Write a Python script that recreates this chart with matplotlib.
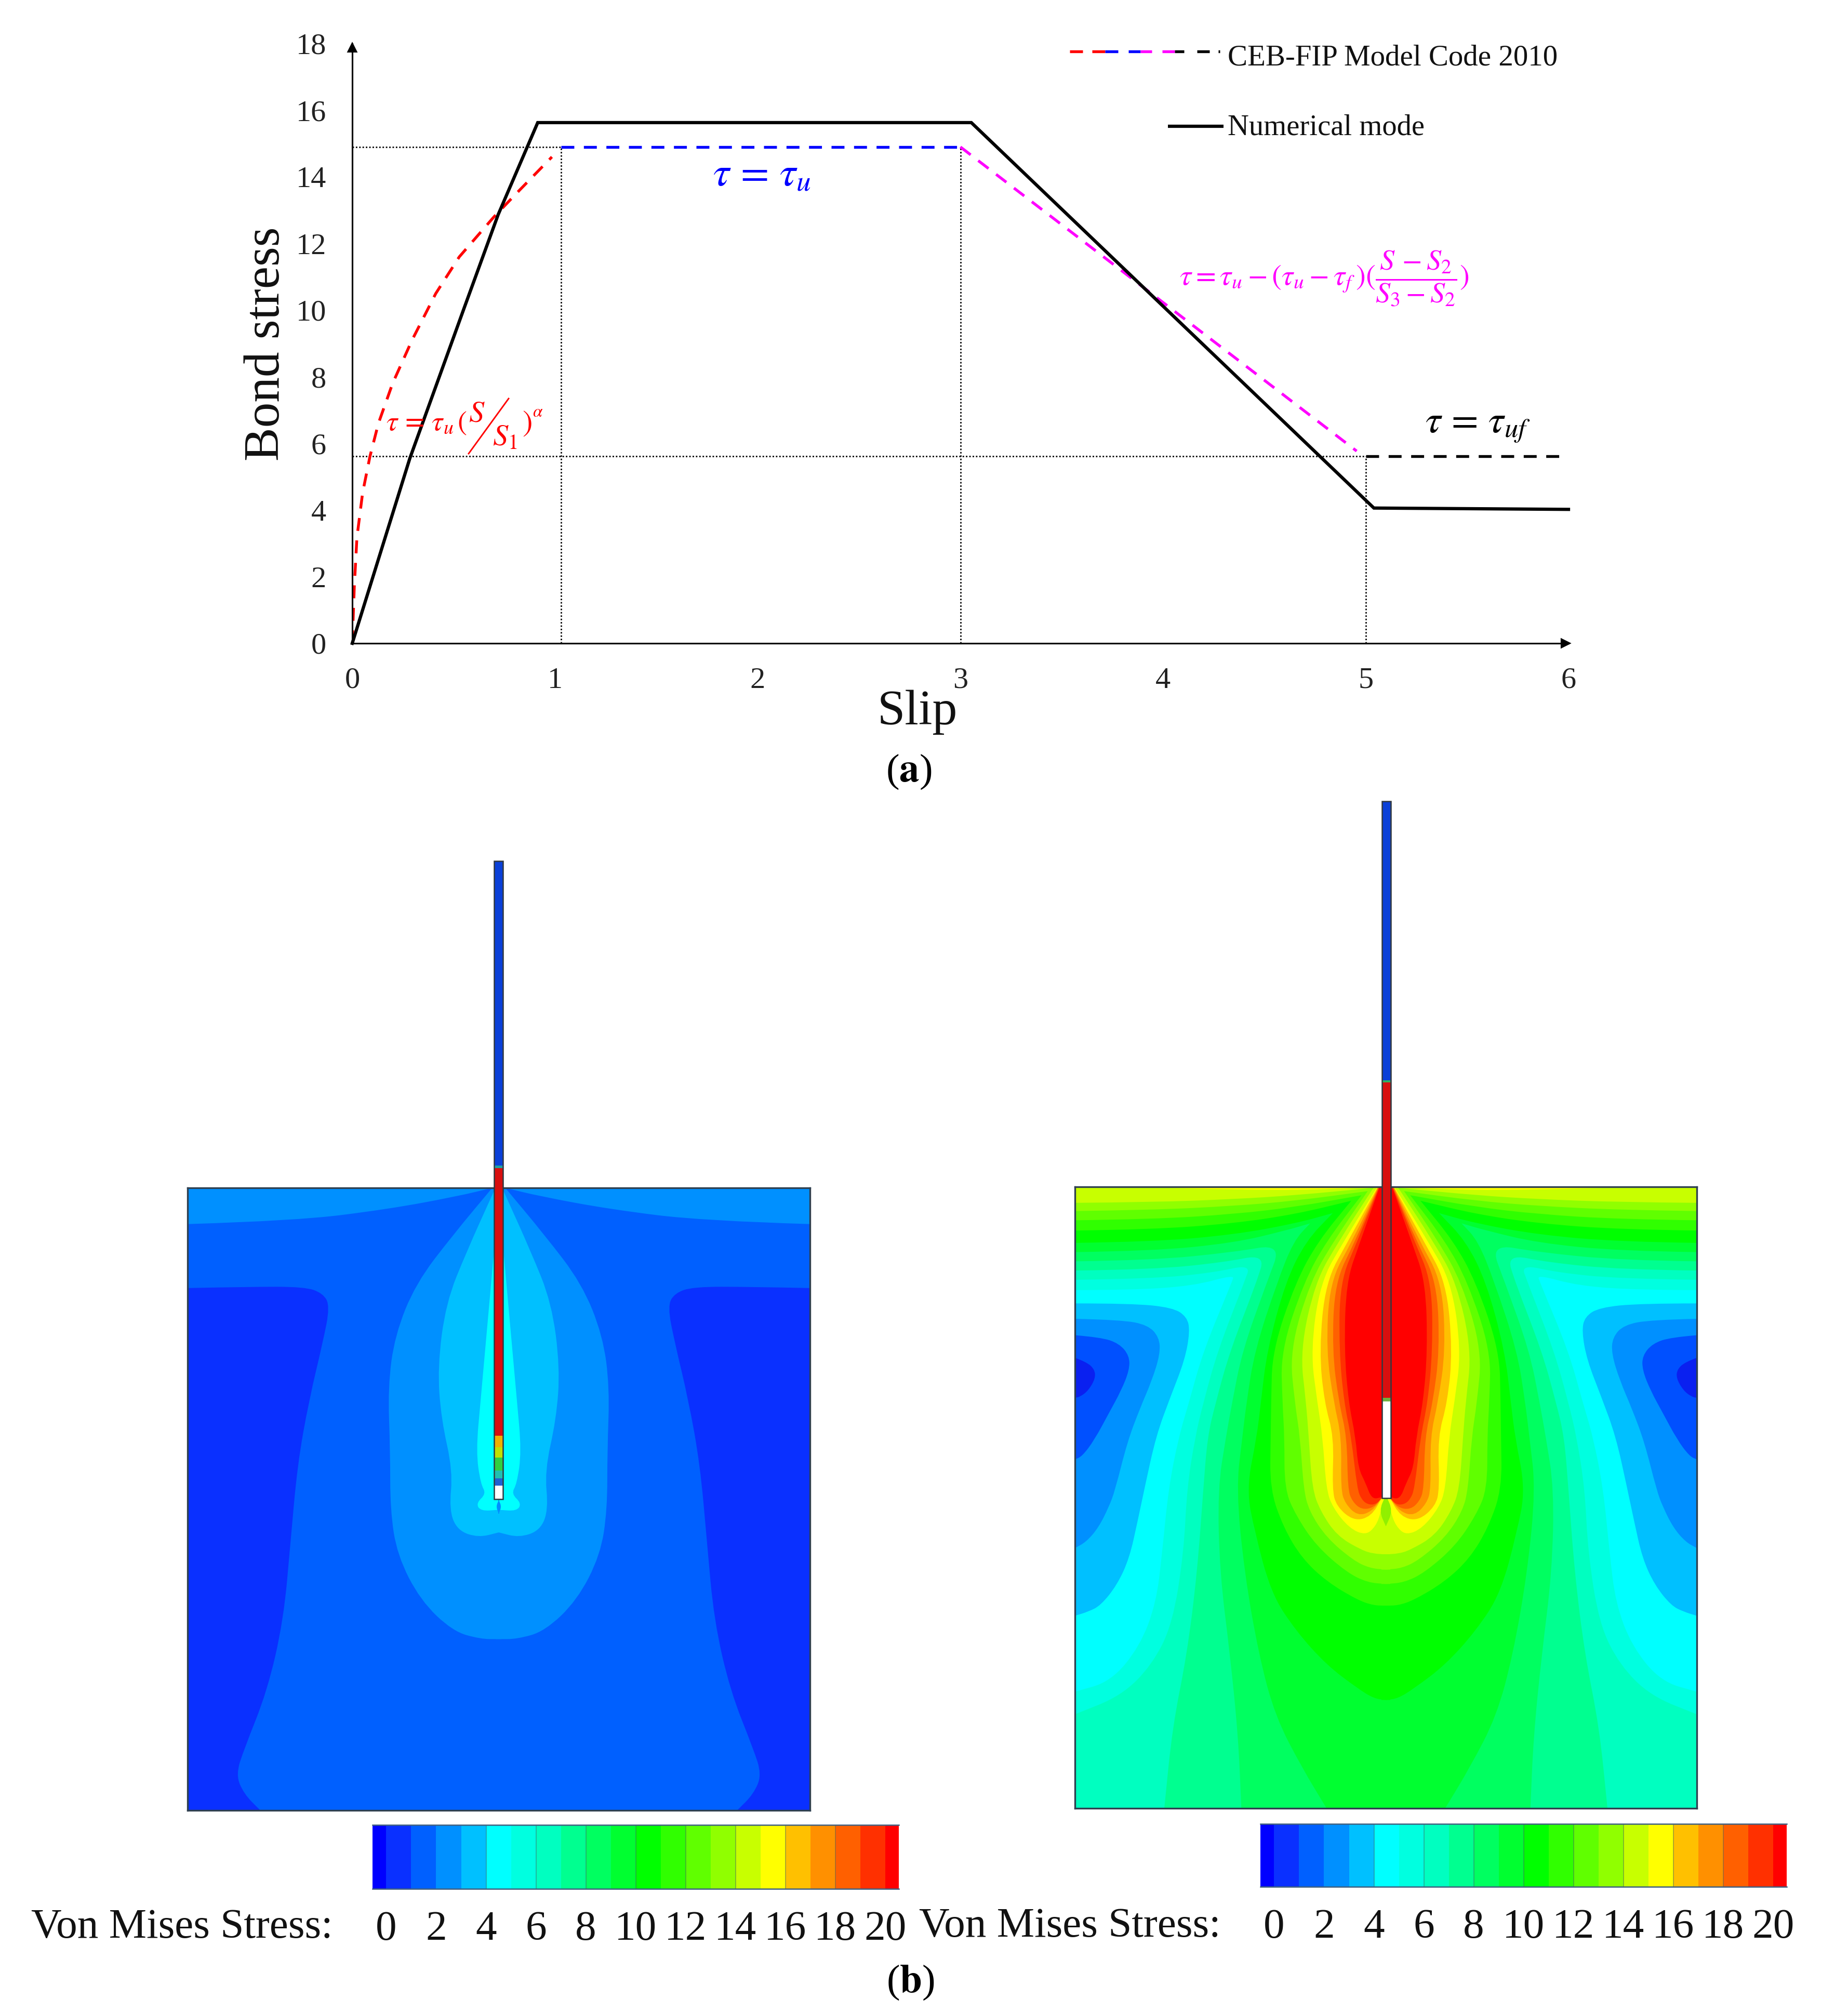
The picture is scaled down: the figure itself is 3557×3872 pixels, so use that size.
import numpy as np
import matplotlib as mpl
mpl.use('agg')
import matplotlib.pyplot as plt
from matplotlib.colors import ListedColormap
from matplotlib.patches import PathPatch
from matplotlib.path import Path

plt.rcParams['font.family'] = ['Liberation Serif', 'DejaVu Serif']
plt.rcParams['mathtext.fontset'] = 'stix'

##--##--##--  panel a data  --##--##--##
x_ticks = [0, 1, 2, 3, 4, 5, 6]
y_ticks = [0, 2, 4, 6, 8, 10, 12, 14, 16, 18]

numerical_s = [0, 0.284, 0.55, 0.72, 0.915, 3.054, 5.04, 6.0]
numerical_t = [0, 5.55, 10.03, 12.87, 15.63, 15.63, 4.06, 4.02]

rising_s = [0, 0.010, 0.023, 0.051, 0.087, 0.129, 0.199, 0.295, 0.412, 0.528, 0.699, 0.825, 0.985]
rising_t = [0, 1.68, 3.17, 4.51, 5.60, 6.60, 7.80, 9.10, 10.50, 11.60, 12.80, 13.60, 14.60]
plateau_s = [1.03, 3.0]
plateau_t = [14.9, 14.9]
falling_s = [3.0, 4.955]
falling_t = [14.9, 5.77]
residual_s = [5.0, 6.0]
residual_t = [5.62, 5.62]

##--##--##--  colour bar data  --##--##--##
bar_edges = [-0.55] + list(range(0, 21)) + [20.54]
bar_ticks = [0, 2, 4, 6, 8, 10, 12, 14, 16, 18, 20]
bar_lines = [4, 6, 8, 10, 12, 14, 16, 18]
bar_colours = ['#0000ff', '#0a30ff', '#0060ff', '#0090ff', '#00c0ff', '#00ffff', '#00ffe0', '#00ffc0',
               '#00ff90', '#00ff60', '#00ff30', '#00ff00', '#30ff00', '#60ff00', '#90ff00', '#c8ff00',
               '#ffff00', '#ffc000', '#ff9000', '#ff6000', '#ff3000', '#ff0000']

##--##--##--  right plate, left half, band outlines  --##--##--##
iso05 = [(25,540),(300,540),(600,520),(800,465),(790,500),(650,835),(580,1088),(530,1256),(480,1509),
         (450,1817),(420,2067),(340,2277),(200,2447),(25,2497)]
iso06 = [(25,490),(400,485),(700,455),(880,415),(850,500),(720,835),(650,1088),(610,1256),(570,1509),
         (555,1817),(500,2167),(400,2367),(250,2517),(25,2607)]
iso07 = [(25,445),(400,440),(750,405),(950,365),(910,500),(780,835),(710,1088),(670,1256),(650,1509),
         (620,1917),(570,2317),(500,2667),(460,3065)]
iso08 = [(25,400),(400,395),(800,355),(1030,315),(960,500),(840,835),(790,1088),(760,1256),(720,1509),
         (730,1917),(780,2317),(820,2717),(835,3065)]
iso09 = [(25,355),(400,350),(800,310),(1050,250),(1170,215),(1170,215),(1090,300),(1010,500),(900,835),(860,1088),
         (840,1256),(810,1509),(850,1917),(920,2317),(1000,2617),(1130,2867),(1250,3065)]
iso10 = [(25,310),(400,305),(800,270),(1100,215),(1280,165),(1280,165),(1150,300),(1050,500),(960,835),(930,1088),
         (910,1256),(860,1509),(900,1717),(980,2017),(1100,2200),(1250,2367),(1400,2480),(1480,2530),(1538,2537)]
iso11 = [(25,250),(400,245),(800,215),(1100,170),(1370,105),(1370,105),(1210,300),(1100,500),(986,835),(980,1088),
         (978,1256),(974,1509),(1040,1697),(1130,1847),(1250,1960),(1400,2050),(1480,2077),(1538,2077)]
iso12 = [(25,200),(400,195),(800,170),(1100,135),(1420,78),(1420,78),(1250,300),(1140,500),(1028,835),(1035,1088),
         (1045,1256),(1045,1509),(1100,1637),(1200,1787),(1350,1917),(1450,1965),(1538,1972)]
iso13 = [(25,155),(400,150),(800,130),(1100,105),(1450,58),(1450,58),(1285,300),(1170,500),(1071,835),(1095,1088),
         (1121,1256),(1138,1509),(1165,1617),(1250,1747),(1380,1857),(1460,1895),(1538,1902)]
iso14 = [(25,115),(400,112),(800,97),(1100,78),(1478,42),(1478,42),(1310,300),(1195,500),(1121,835),(1150,1088),
         (1163,1256),(1180,1509),(1220,1617),(1300,1737),(1420,1807),(1480,1825),(1538,1827)]
iso15 = [(1495,40),(1495,40),(1335,300),(1220,500),(1172,835),(1205,1088),(1231,1256),(1248,1509),(1280,1600),
         (1360,1700),(1440,1735),(1490,1690),(1515,1620),(1528,1560)]
iso16 = [(1498,40),(1498,40),(1355,300),(1245,500),(1214,835),(1239,1088),(1286,1256),(1277,1509),(1298,1594),
         (1382,1665),(1467,1644),(1522,1548)]
iso17 = [(1500,40),(1500,40),(1375,300),(1265,500),(1248,835),(1285,1088),(1323,1256),(1319,1509),(1340,1580),
         (1400,1640),(1470,1620),(1522,1548)]
iso18 = [(1502,40),(1502,40),(1390,300),(1290,500),(1277,835),(1310,1088),(1349,1256),(1353,1509),(1375,1570),
         (1420,1610),(1480,1600),(1522,1548)]
iso19 = [(1505,40),(1505,40),(1400,300),(1315,500),(1311,835),(1335,1088),(1370,1256),(1399,1509),(1420,1560),
         (1450,1585),(1490,1585),(1522,1548)]
iso20 = [(1507,40),(1507,40),(1415,300),(1345,500),(1336,835),(1357,1088),(1391,1256),(1404,1408),(1440,1480),
         (1470,1560),(1522,1548)]
top_strip = [(300,37),(900,55),(1300,48),(1470,37)]
notch = [(1538,1540),(1538,1540),(1505,1615),(1538,1690),(1538,1690)]

pocket3 = [(25,605),(300,605),(500,625),(570,670),(585,740),(560,880),(490,1060),(420,1250),(365,1500),(330,1667),
           (290,1847),(230,1977),(150,2077),(90,2107),(25,2127)]
pocket2 = [(25,680),(250,685),(380,710),(435,770),(440,850),(400,980),(340,1120),(280,1280),(220,1517),(190,1597),
           (140,1697),(80,1767),(25,1797)]
pocket1 = [(25,760),(150,770),(240,800),(290,860),(290,930),(250,1030),(190,1140),(120,1270),(60,1350),(25,1365)]
pocket0 = [(25,870),(80,890),(120,925),(125,970),(90,1030),(50,1060),(25,1065)]

##--##--##--  left plate, left half  --##--##--##
top_band = [(68,608),(300,603),(500,585),(650,565),(725,552)]
side_pocket = [(68,707),(200,705),(320,705),(360,715),(375,735),(360,790),(330,880),(305,980),(290,1100),(275,1220),
               (240,1330),(190,1420),(172,1460),(190,1490),(225,1515)]
lobe_outer = [(725,552),(725,552),(640,625),(560,700),(515,780),(500,860),(505,960),(505,1050),(520,1120),(570,1190),
              (640,1238),(700,1250),(739,1250)]
lobe_middle = [(728,558),(728,558),(670,650),(625,730),(607,830),(615,910),(640,990),(632,1050),(650,1082),(695,1093),
               (739,1085)]
lobe_inner = [(735,600),(735,600),(720,720),(700,880),(690,960),(700,1010),(712,1025),(690,1040),(700,1052),(739,1050)]
tip_spot = [(739,1035),(739,1035),(733,1045),(739,1056),(739,1056)]

left_stem_y = [1657, 2243, 2248, 2763, 2785, 2805, 2830, 2845, 2859, 2885]
left_stem_c = ['#0a40d8', '#20a0a0', '#d80f0f', '#f0b000', '#c0e000', '#30d040', '#20c0b0', '#2060d0', '#ffffff']
right_stem_y = [1542, 2079, 2083, 2690, 2697, 2883]
right_stem_c = ['#0a40d8', '#30b060', '#d80f0f', '#70b040', '#ffffff']


##--##--##--  create figure  --##--##--##
W, H = 3557, 3872
fig = plt.figure(figsize=(W / 300, H / 300), dpi=300)


def px_axes(l, t, r, b):
    return fig.add_axes([l / W, 1 - b / H, (r - l) / W, (b - t) / H])


def smooth_path(curve, corners):
    # quadratic spline through the traced points, then straight closing corners
    pts = np.array(curve, dtype=float)
    verts = [pts[0]]
    codes = [Path.MOVETO]
    for i in range(1, len(pts) - 1):
        verts += [pts[i], (pts[i] + pts[i + 1]) / 2]
        codes += [Path.CURVE3, Path.CURVE3]
    verts.append(pts[-1])
    codes.append(Path.LINETO)
    for c in corners:
        verts.append(np.array(c, dtype=float))
        codes.append(Path.LINETO)
    verts.append(pts[0])
    codes.append(Path.CLOSEPOLY)
    return Path(np.array(verts), codes)


def both_sides(ax, curve, corners, colour, mirror):
    ax.add_patch(PathPatch(smooth_path(curve, corners), fc=colour, ec='none', lw=0))
    flip = [(mirror - x, y) for x, y in curve]
    flipc = [(mirror - x, y) for x, y in corners]
    ax.add_patch(PathPatch(smooth_path(flip, flipc), fc=colour, ec='none', lw=0))


def plate_axes(l, t, r, b, xr, yr, base):
    ax = px_axes(l, t, r, b)
    ax.set_xlim(*xr)
    ax.set_ylim(*yr)
    ax.set_xticks([])
    ax.set_yticks([])
    ax.set_facecolor(base)
    for s in ax.spines.values():
        s.set_linewidth(0.8)
        s.set_color('#2f4050')
    return ax


def colour_bar(l, t, r, b):
    ax = px_axes(l, t, r, b)
    cmap = ListedColormap(bar_colours)
    ax.pcolormesh(bar_edges, [0, 1], [np.arange(len(bar_colours))], cmap=cmap, vmin=-0.5, vmax=len(bar_colours) - 0.5)
    ax.vlines(bar_lines, 0, 1, color='#40606080', lw=0.4)
    ax.set_xlim(bar_edges[0], bar_edges[-1])
    ax.set_ylim(0, 1)
    ax.set_yticks([])
    ax.set_xticks(bar_ticks)
    ax.tick_params(axis='x', length=0, pad=10, labelsize=19.5, labelcolor='#111111')
    ax.spines['left'].set_visible(False)
    ax.spines['right'].set_visible(False)
    ax.spines['top'].set_color('#406080')
    ax.spines['bottom'].set_color('#406080')
    ax.spines['top'].set_linewidth(0.6)
    ax.spines['bottom'].set_linewidth(0.6)
    return ax


##--##--##--  panel a  --##--##--##
ax1 = px_axes(678, 84, 3019, 1238)
ax1.set_xlim(0, 6)
ax1.set_ylim(0, 18)
ax1.patch.set_alpha(0)
ax1.spines['top'].set_visible(False)
ax1.spines['right'].set_visible(False)
ax1.spines['left'].set_linewidth(0.75)
ax1.spines['bottom'].set_linewidth(0.75)
ax1.set_xticks(x_ticks)
ax1.set_yticks(y_ticks)
ax1.tick_params(axis='x', length=0, pad=11, labelsize=14, labelcolor='#222222')
ax1.tick_params(axis='y', length=0, pad=12, labelsize=14, labelcolor='#222222')

dots = dict(color='#111111', lw=0.7, ls=(0, (1, 1.2)))
ax1.plot([0, 1.03], [14.9, 14.9], **dots)
ax1.plot([0, 5.0], [5.62, 5.62], **dots)
ax1.plot([1.03, 1.03], [0, 14.9], **dots)
ax1.plot([3.0, 3.0], [0, 14.9], **dots)
ax1.plot([5.0, 5.0], [0, 5.62], **dots)

dash = (0, (4.6, 3.4))
ax1.plot(rising_s, rising_t, color='#ff0000', lw=1.3, ls=dash)
ax1.plot(plateau_s, plateau_t, color='#0000ff', lw=1.3, ls=dash)
ax1.plot(falling_s, falling_t, color='#ff00ff', lw=1.3, ls=dash)
ax1.plot(residual_s, residual_t, color='#000000', lw=1.3, ls=dash)
ax1.plot(numerical_s, numerical_t, color='#000000', lw=1.5, solid_joinstyle='miter', clip_on=False)
ax1.plot(5.985, 0, marker='>', ms=3.5, color='black', clip_on=False)
ax1.plot(0, 17.88, marker='^', ms=3.5, color='black', clip_on=False)


##--##--##--  panel b, left plate  --##--##--##
ax2 = plate_axes(361, 2286, 1559, 3484, (68, 1410), (1515, 552), '#0060ff')
m = 1478
both_sides(ax2, top_band, [(725, 400), (-100, 400), (-100, 608)], '#0090ff', m)
both_sides(ax2, side_pocket, [(225, 1700), (-100, 1700), (-100, 707)], '#0a30ff', m)
both_sides(ax2, lobe_outer, [(745, 1250), (745, 552)], '#0090ff', m)
both_sides(ax2, lobe_middle, [(745, 1085), (745, 558)], '#00c0ff', m)
both_sides(ax2, lobe_inner, [(745, 1050), (745, 600)], '#00ffff', m)
both_sides(ax2, tip_spot, [(740, 1056), (740, 1035)], '#0090ff', m)

##--##--##--  panel b, right plate  --##--##--##
ax3 = plate_axes(2069, 2284, 3266, 3480, (25, 3052), (3065, 37), '#00ffff')
m = 3077
for curve, colour in [(pocket3, '#00c0ff'), (pocket2, '#0090ff'), (pocket1, '#0050ff'), (pocket0, '#0a20f0')]:
    both_sides(ax3, curve, [(-200, curve[-1][1]), (-200, curve[0][1])], colour, m)

for curve, colour in [(iso05, '#00ffe0'), (iso06, '#00ffc0')]:
    both_sides(ax3, curve, [(-200, curve[-1][1]), (-200, 3300), (1560, 3300), (1560, -200), (-200, -200),
                            (-200, curve[0][1])], colour, m)
for curve, colour in [(iso07, '#00ff90'), (iso08, '#00ff60'), (iso09, '#00ff30')]:
    both_sides(ax3, curve, [(curve[-1][0], 3300), (1560, 3300), (1560, -200), (-200, -200),
                            (-200, curve[0][1])], colour, m)
for curve, colour in [(iso10, '#00ff00'), (iso11, '#30ff00'), (iso12, '#60ff00'), (iso13, '#90ff00'), (iso14, '#c8ff00')]:
    both_sides(ax3, curve, [(1560, curve[-1][1]), (1560, -200), (-200, -200), (-200, curve[0][1])], colour, m)
both_sides(ax3, top_strip, [(1470, -50), (300, -50)], '#ffff00', m)
for curve, colour in [(iso15, '#ffff00'), (iso16, '#ffc000'), (iso17, '#ff9000'), (iso18, '#ff6000'),
                      (iso19, '#ff3000'), (iso20, '#ff0000')]:
    both_sides(ax3, curve, [(1560, curve[-1][1]), (1560, -200), (curve[0][0], -200)], colour, m)
both_sides(ax3, notch, [(1539, 1690), (1539, 1540)], '#90f000', m)

colour_bar(717, 3512, 1730, 3635)
colour_bar(2426, 3510, 3439, 3631)


##--##--##--  page overlay: stems, legend, texts  --##--##--##
page = fig.add_axes([0, 0, 1, 1])
page.set_xlim(0, W)
page.set_ylim(H, 0)
page.axis('off')
page.patch.set_alpha(0)

for cx, ys, cs in [(959.5, left_stem_y, left_stem_c), (2668.5, right_stem_y, right_stem_c)]:
    page.bar([cx] * len(cs), np.diff(ys), width=17, bottom=ys[:-1], color=cs, lw=0)
    page.bar([cx], [ys[-1] - ys[0]], width=17, bottom=[ys[0]], fc='none', ec='#303840', lw=0.6)

# legend keys
for x0, x1, c in [(2059, 2084, '#ff0000'), (2102, 2127, '#ff0000'), (2127, 2152, '#0000ff'), (2172, 2195, '#0000ff'),
                  (2195, 2217, '#ff00ff'), (2237, 2261, '#ff00ff'), (2261, 2279, '#000000'), (2304, 2328, '#000000'),
                  (2345, 2348, '#000000')]:
    page.plot([x0, x1], [99, 99], color=c, lw=1.3, solid_capstyle='butt')
page.plot([2248, 2355], [243, 243], color='black', lw=1.5, solid_capstyle='butt')
page.text(2363, 112, 'CEB-FIP Model Code 2010', fontsize=13.7, va='center', color='#111111')
page.text(2363, 245, 'Numerical mode', fontsize=13.6, va='center', color='#111111')

page.text(514, 662, 'Bond stress', fontsize=23.3, rotation=90, ha='center', va='center', color='#111111')
page.text(1766, 1371, 'Slip', fontsize=23, ha='center', va='center', color='#111111')
page.text(1749, 1485, r'($\mathbf{a}$)', fontsize=18.5, ha='center', va='center')
page.text(1752, 3815, r'($\mathbf{b}$)', fontsize=18.5, ha='center', va='center')

page.text(60, 3710, 'Von Mises Stress:', fontsize=19.5, va='center', color='#111111')
page.text(1769, 3708, 'Von Mises Stress:', fontsize=19.5, va='center', color='#111111')

# formulas
page.text(1467, 338, r'$\tau\,=\,\tau_u$', fontsize=19, ha='center', va='center', color='#0000ff')
page.text(2845, 822, r'$\tau\,=\,\tau_{uf}$', fontsize=18, ha='center', va='center', color='black')
page.text(2549, 536, r'$\tau=\tau_u-(\tau_u-\tau_f\,)(\dfrac{S\,-S_2}{S_3-S_2})$', fontsize=13.5, ha='center',
          va='center', color='#ff00ff')
red = dict(color='#ff0000', va='center')
page.text(743, 815, r'$\tau\,=\,\tau_u\,($', fontsize=13, **red)
page.text(902, 797, r'$S$', fontsize=14, **red)
page.text(948, 843, r'$S_1$', fontsize=14, **red)
page.text(1005, 815, r'$)$', fontsize=14, **red)
page.text(1025, 794, r'$\alpha$', fontsize=8, **red)
page.plot([979, 902], [767, 873], color='#ff0000', lw=0.7)

fig.savefig('out.png', dpi=300)
